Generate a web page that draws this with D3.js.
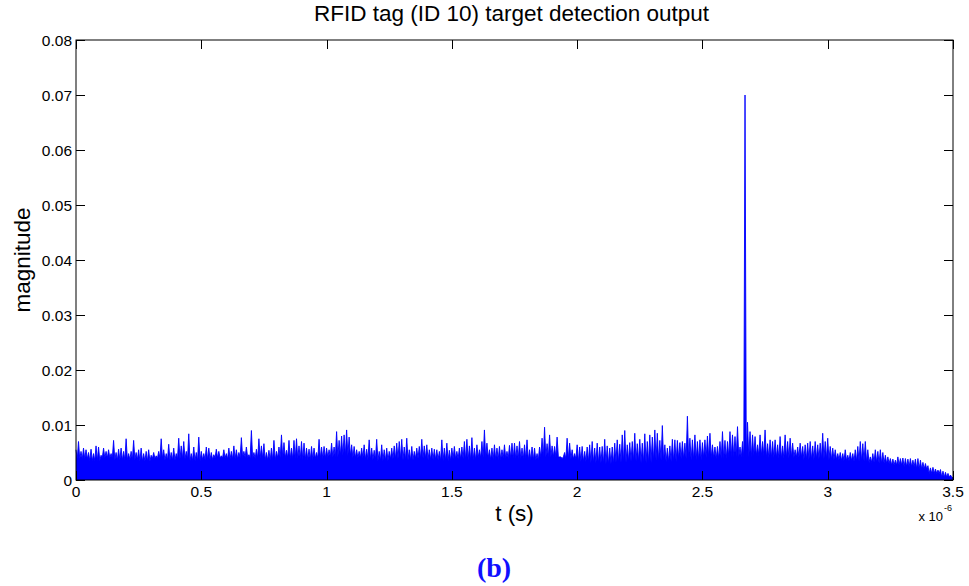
<!DOCTYPE html>
<html>
<head>
<meta charset="utf-8">
<script src="https://cdn.jsdelivr.net/npm/d3@7"></script>
<style>
  html, body { margin: 0; padding: 0; background: #ffffff; }
  svg { display: block; font-family: "Liberation Sans", Arial, sans-serif; }
</style>
</head>
<body>
<svg id="chart" width="969" height="586"></svg>
<script>
// ---- data (magnitudes in units of 1e-4, time in µs) ----
const chartTitle = "RFID tag (ID 10) target detection output";
const xLabel = "t (s)";
const yLabel = "magnitude";
const panelLabel = "(b)";
const xTicks = [0, 0.5, 1, 1.5, 2, 2.5, 3, 3.5];          // × 1e-6 s
const yTicks = [0, 0.01, 0.02, 0.03, 0.04, 0.05, 0.06, 0.07, 0.08];
const peakStepUs = 0.01;
const troughStepUs = 0.05;

// local peak magnitude per 0.01 µs (×1e-4)
const peaksE4 = [
  55,70,52,58,55,50,56,48,62,60, 45,58,52,55,48,72,50,56,58,52,
  75,48,52,72,50,55,58,48,52,55, 45,50,44,52,75,55,48,65,50,58,
  48,76,62,70,52,84,48,60,50,78, 52,48,60,58,50,46,56,52,44,55,
  48,58,52,62,55,50,77,52,60,46, 90,50,56,75,62,66,50,54,58,72,
  52,60,82,68,54,72,58,
  72,75,62,70,67,58,56,61,58,50, 74,60,61,58,55,67,60,88,72,80,
  82,91,78,64,61,55,52,58,64,56, 73,58,54,74,52,64,55,58,52,58,
  62,67,70,74,60,76,55,61,52,58, 61,74,62,64,55,58,56,55,52,73,
  58,67,54,58,61,52,58,60,70,74, 62,77,58,64,55,70,91,67,55,58,
  64,58,61,55,64,52,63,67,
  67,62,70,58,64,73,55,60,58,48, 60,76,96,66,82,62,61,78,42,39,
  50,76,67,55,48,64,60,61,52,60, 64,70,58,67,60,61,74,62,58,60,
  67,73,65,82,90,64,68,70,85,66, 74,67,84,70,82,78,91,85,72,99,
  64,58,62,74,73,72,68,70,67,116, 76,73,82,70,73,68,73,80,85,64,
  60,61,70,88,72,70,88,82,
  79,97,60,70,700,105,88,82,79,64, 82,70,91,66,73,70,73,64,79,62,
  82,70,76,67,55,60,67,61,64,67, 70,62,70,64,67,85,70,76,61,58,
  55,48,50,48,55,45,50,48,55,61, 70,66,70,55,42,48,55,52,55,50,
  45,42,39,38,36,42,39,40,39,38, 39,36,38,39,36,32,30,26,22,23,
  20,18,19,16,14,12,9,4
];
// solid-body (trough) level per 0.05 µs (×1e-4)
const troughsE4 = [
  38,35,40,36,37,34,39,36,38,35,
  37,40,38,41,39,36,40,38,37,39,
  41,44,40,37,35,38,36,39,37,35,
  38,36,40,37,39,38,36,41,42,38,
  33,31,29,32,34,31,35,33,38,36,
  40,38,42,41,44,40,39,41,37,38,
  37,35,34,32,30,27,24,20,12,5
];

// build the plotted series: peak, trough, peak, trough ...
const series = [];
peaksE4.forEach((p, i) => {
  const t = i * peakStepUs;
  series.push({ t: t, v: p * 1e-4 });
  if (i < peaksE4.length - 1) {
    const tm = t + peakStepUs / 2;
    const k = Math.min(troughsE4.length - 1, Math.floor(tm / troughStepUs));
    series.push({ t: tm, v: troughsE4[k] * 1e-4 });
  }
});

// ---- layout ----
const svg = d3.select("#chart");
const L = 76, R = 953, T = 40, B = 480;
const x = d3.scaleLinear().domain([0, 3.5]).range([L, R]);
const y = d3.scaleLinear().domain([0, 0.08]).range([B, T]);
const tickLen = 9;

// data (dense signal: filled body plus stroked outline)
const area = d3.area().x(d => x(d.t)).y0(y(0)).y1(d => y(d.v));
const line = d3.line().x(d => x(d.t)).y(d => y(d.v));
svg.append("path").datum(series).attr("d", area)
  .attr("fill", "#0000ff").attr("stroke", "none");
svg.append("path").datum(series).attr("d", line)
  .attr("fill", "none").attr("stroke", "#0000ff").attr("stroke-width", 0.9);

// axes box
const axG = svg.append("g").attr("stroke", "#000").attr("stroke-width", 1).attr("fill", "none");
axG.append("rect").attr("x", L).attr("y", T).attr("width", R - L).attr("height", B - T);

// x ticks (bottom + top, inward)
xTicks.forEach(v => {
  const px = Math.round(x(v)) + 0.5;
  axG.append("line").attr("x1", px).attr("x2", px).attr("y1", B).attr("y2", B - tickLen);
  axG.append("line").attr("x1", px).attr("x2", px).attr("y1", T).attr("y2", T + tickLen);
});
// y ticks (left + right, inward)
yTicks.forEach(v => {
  const py = Math.round(y(v)) + 0.5;
  axG.append("line").attr("x1", L).attr("x2", L + tickLen).attr("y1", py).attr("y2", py);
  axG.append("line").attr("x1", R).attr("x2", R - tickLen).attr("y1", py).attr("y2", py);
});

// tick labels
const tickFont = 15.5;
svg.append("g").selectAll("text").data(xTicks).join("text")
  .attr("x", d => x(d)).attr("y", 497)
  .attr("text-anchor", "middle").attr("font-size", tickFont).attr("fill", "#000")
  .text(d => d3.format("")(d));
svg.append("g").selectAll("text").data(yTicks).join("text")
  .attr("x", 72).attr("y", d => y(d)).attr("dy", "0.36em")
  .attr("text-anchor", "end").attr("font-size", tickFont).attr("fill", "#000")
  .text(d => d === 0 ? "0" : d3.format(".2f")(d));

// exponent "x 10^-6"
svg.append("text").attr("x", 943).attr("y", 521)
  .attr("text-anchor", "end").attr("font-size", 13).attr("fill", "#000").text("x 10");
svg.append("text").attr("x", 944).attr("y", 511)
  .attr("font-size", 9).attr("fill", "#000").text("-6");

// title and axis labels
svg.append("text").attr("x", (L + R) / 2 - 3).attr("y", 21)
  .attr("text-anchor", "middle").attr("font-size", 22.5).attr("fill", "#000").text(chartTitle);
svg.append("text").attr("x", (L + R) / 2).attr("y", 521)
  .attr("text-anchor", "middle").attr("font-size", 22.5).attr("fill", "#000").text(xLabel);
svg.append("text")
  .attr("transform", `translate(30, ${(T + B) / 2}) rotate(-90)`)
  .attr("text-anchor", "middle").attr("font-size", 22.5).attr("fill", "#000").text(yLabel);

// panel label
svg.append("text").attr("x", 494).attr("y", 577)
  .attr("text-anchor", "middle").attr("font-size", 28).attr("font-weight", "bold")
  .attr("font-family", "'Liberation Serif', 'Times New Roman', serif")
  .attr("fill", "#1010ff").text(panelLabel);
</script>
</body>
</html>
